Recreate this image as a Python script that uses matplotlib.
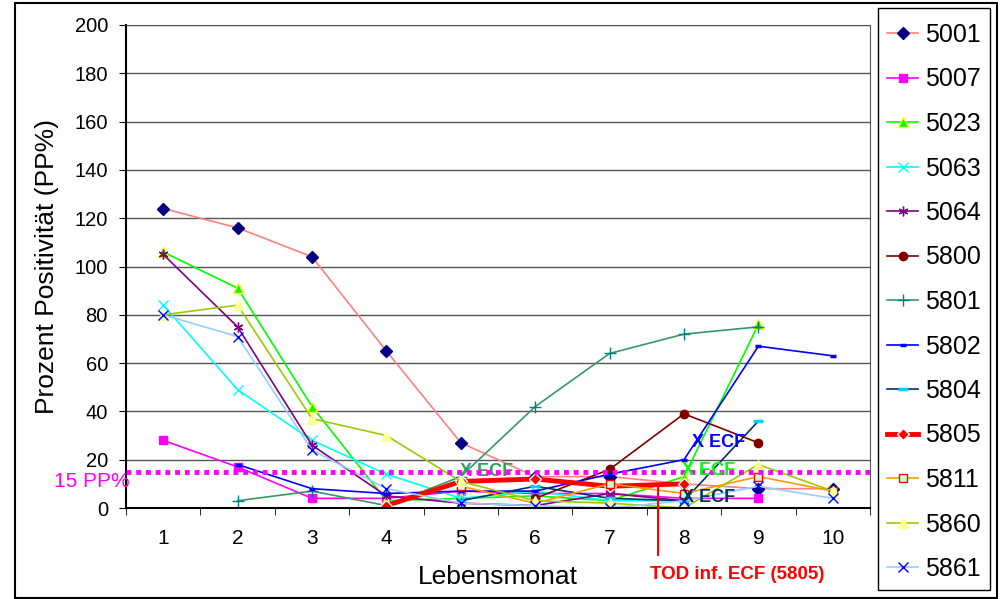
import numpy as np
import matplotlib
matplotlib.use("Agg")
import matplotlib.pyplot as plt
from matplotlib.patches import Rectangle

plt.rcParams['font.family'] = ['Liberation Sans', 'DejaVu Sans']

nan = np.nan
months = [1, 2, 3, 4, 5, 6, 7, 8, 9, 10]

# Prozent Positivität per animal and month
s5001 = [124, 116, 104, 65, 27, 13, 13, 10, 8, 8]
s5007 = [28, 17, 4, 4, 7, 6, 6, 4, 4, nan]
s5023 = [106, 91, 42, 3, 4, 5, 3, 13, 76, nan]
s5063 = [84, 49, 28, 14, 4, 7, 3, 3, nan, nan]
s5064 = [105, 75, 26, 5, 2, 1, 6, 3, nan, nan]
s5800 = [nan, nan, nan, nan, nan, 4, 16, 39, 27, nan]
s5801 = [nan, 3, 7, 1, 13, 42, 64, 72, 75, nan]
s5802 = [nan, 18, 8, 6, 7, 7, 14, 20, 67, 63]
s5804 = [nan, nan, nan, nan, 3, 9, 4, 3, 36, nan]
s5805 = [nan, nan, nan, 1, 11, 12, 9, 10, nan, nan]
s5811 = [nan, nan, nan, nan, 9, 2, 10, 6, 13, 7]
s5860 = [80, 84, 37, 30, 11, 3, 2, 0, 18, 7]
s5861 = [80, 71, 24, 8, 2, 1, 0, 3, 9, 4]

threshold = 15

# label, values, line colour, marker, marker face, marker edge, marker size, line width
series = [
    ("5001", s5001, "#FF8080", "D", "#000080", "#000080", 6, 1.2),
    ("5007", s5007, "#FF00FF", "s", "#FF00FF", "#FF00FF", 6, 1.2),
    ("5023", s5023, "#00FF00", "^", "#00FF00", "#FFFF00", 7, 1.2),
    ("5063", s5063, "#00FFFF", "x", "#00FFFF", "#00FFFF", 7, 1.2),
    ("5064", s5064, "#800080", (6, 2, 0), "#800080", "#800080", 7, 1.2),
    ("5800", s5800, "#800000", "o", "#800000", "#800000", 6, 1.2),
    ("5801", s5801, "#339966", "+", "#008080", "#008080", 8, 1.2),
    ("5802", s5802, "#0000FF", "_", "#0000FF", "#0000FF", 5, 1.2),
    ("5804", s5804, "#003366", "_", "#00CCFF", "#00CCFF", 7, 1.2),
    ("5805", s5805, "#FF0000", "D", "#FF0000", "#FFFFFF", 6, 3.5),
    ("5811", s5811, "#FF9900", "s", "#CCFFCC", "#FF0000", 5.5, 1.2),
    ("5860", s5860, "#99CC00", "^", "#FFFF99", "#FFFF99", 7, 1.2),
    ("5861", s5861, "#99CCFF", "x", "#0000FF", "#0000FF", 7, 1.2),
]

fig = plt.figure(figsize=(10.08, 5.99), dpi=100)
ax = fig.add_axes([126 / 1008, 91 / 599, 744 / 1008, 483 / 599])

handles = []
for label, vals, lc, mk, mfc, mec, ms, lw in series:
    y = np.array(vals, dtype=float)
    mew = 2.5 if mk == "_" else 1.0
    h, = ax.plot(months, y, color=lc, lw=lw, marker=mk, markersize=ms,
                 markerfacecolor=mfc, markeredgecolor=mec, markeredgewidth=mew,
                 label=label)
    handles.append(h)

# 15 PP% threshold
ax.axhline(threshold, color="#FF00FF", lw=3.5, ls=(0, (1, 1)), zorder=5)
ax.text(0.555, 10.8, "15 PP%", color="#FF00FF", fontsize=15, ha="right",
        va="center", clip_on=False)

# ECF markers
ax.text(4.99, 15, "X ECF", color="#339966", fontsize=13, fontweight="bold",
        va="center", ha="left", zorder=4)
ax.text(8.11, 27, "X ECF", color="#0000FF", fontsize=13, fontweight="bold",
        va="center", ha="left", zorder=6)
ax.text(7.97, 15.7, "X ECF", color="#00FF00", fontsize=13, fontweight="bold",
        va="center", ha="left", zorder=6)
ax.text(7.97, 4.5, "X ECF", color="#003366", fontsize=13, fontweight="bold",
        va="center", ha="left", zorder=6)

# death of 5805
ax.plot([7.65, 7.65], [9.5, -19.5], color="#FF0000", lw=1.5, clip_on=False, zorder=6)
ax.text(8.71, -27.5, "TOD inf. ECF (5805)", color="#FF0000", fontsize=13.5,
        fontweight="bold", ha="center", va="center", clip_on=False)

ax.set_xlim(0.5, 10.5)
ax.set_ylim(0, 200)
ax.set_yticks(range(0, 201, 20))
ax.set_xticks(months)
ax.set_xticks(np.arange(0.5, 10.6, 1), minor=True)
ax.tick_params(axis="x", which="major", length=0, labelsize=15, pad=15)
ax.tick_params(axis="x", which="minor", length=5, direction="out")
ax.tick_params(axis="y", length=5, direction="out", labelsize=14.5, pad=8)
ax.grid(axis="y", color="#555555", lw=1)
ax.set_axisbelow(True)
for side in ["top", "right"]:
    ax.spines[side].set_color("#555555")
ax.spines["left"].set_linewidth(1.5)
ax.spines["bottom"].set_linewidth(1.5)

ax.set_xlabel("Lebensmonat", fontsize=19, labelpad=12.5)
ax.set_ylabel("Prozent Positivität (PP%)", fontsize=19, labelpad=11)

# legend box
fig.patches.append(Rectangle((878 / 1008, 9 / 599), 112 / 1008, 582 / 599,
                             transform=fig.transFigure, fill=False,
                             edgecolor="black", lw=1))
fig.legend(handles=handles, loc="upper left", bbox_to_anchor=(887 / 1008, 1 - 23 / 599),
           frameon=False, fontsize=18, handlelength=1.24, handletextpad=0.28,
           labelspacing=0.82, borderaxespad=0, borderpad=0)

# outer frame
fig.patches.append(Rectangle((15 / 1008, 0.002), 982 / 1008, 0.993,
                             transform=fig.transFigure, fill=False,
                             edgecolor="black", lw=1.5))

fig.savefig("out.png", dpi=100)
